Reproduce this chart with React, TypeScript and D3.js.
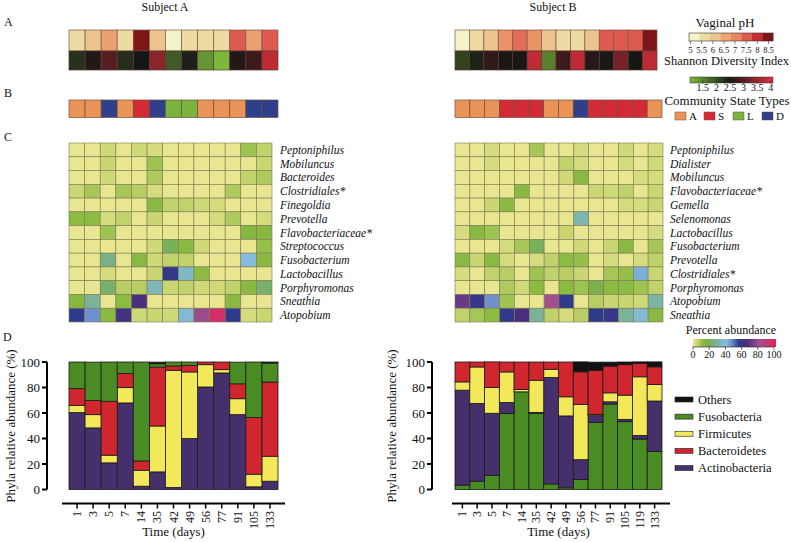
import React from 'react';
import * as d3 from 'd3';

// ---------- data ----------
const daysA = ['1', '3', '5', '7', '14', '35', '42', '49', '56', '77', '91', '105', '133'];
const daysB = ['1', '3', '5', '7', '14', '35', '42', '49', '56', '77', '91', '105', '119', '133'];

const phA = [5.5, 6.0, 6.6, 5.5, 8.5, 6.0, 5.0, 5.5, 5.5, 5.5, 7.5, 6.6, 7.5];
const phB = [5.0, 5.5, 6.0, 6.8, 7.3, 6.8, 6.0, 5.5, 5.5, 6.0, 7.5, 7.5, 7.5, 8.5];

const shannonA = [2.25, 2.6, 3.0, 2.3, 2.5, 3.4, 1.9, 2.4, 1.35, 1.05, 2.6, 2.8, 3.8];
const shannonB = [2.1, 2.38, 2.7, 2.55, 2.55, 3.8, 1.55, 2.8, 3.8, 2.65, 2.55, 3.25, 2.5, 3.8];

const cstA = ['A', 'A', 'D', 'A', 'S', 'D', 'L', 'L', 'A', 'A', 'A', 'D', 'D'];
const cstB = ['A', 'A', 'A', 'S', 'S', 'S', 'A', 'A', 'D', 'S', 'S', 'S', 'S', 'A'];
const cstTypes = ['A', 'S', 'L', 'D'];

const taxaA = ['Peptoniphilus', 'Mobiluncus', 'Bacteroides', 'Clostridiales*', 'Finegoldia', 'Prevotella',
  'Flavobacteriaceae*', 'Streptococcus', 'Fusobacterium', 'Lactobacillus', 'Porphyromonas', 'Sneathia', 'Atopobium'];
const abundA = [
  [0, 0, 4, 0, 4, 3, 0, 0, 0, 0, 0, 10, 6],
  [0, 0, 5, 0, 0, 10, 0, 0, 0, 0, 0, 0, 5],
  [0, 0, 4, 0, 0, 8, 0, 0, 0, 0, 0, 6, 8],
  [5, 9, 0, 9, 7, 3, 0, 0, 0, 0, 8, 0, 0],
  [0, 0, 0, 0, 0, 13, 6, 6, 4, 3, 0, 0, 0],
  [12, 12, 3, 6, 0, 5, 0, 0, 0, 3, 8, 0, 3],
  [0, 0, 10, 0, 0, 0, 0, 0, 0, 0, 0, 14, 14],
  [0, 0, 0, 0, 0, 4, 20, 13, 4, 0, 0, 0, 11],
  [0, 0, 25, 0, 13, 4, 6, 6, 0, 0, 0, 40, 13],
  [0, 0, 3, 0, 0, 5, 57, 35, 12, 0, 0, 0, 0],
  [0, 0, 22, 7, 7, 33, 5, 6, 4, 4, 6, 13, 22],
  [14, 28, 0, 12, 65, 0, 0, 0, 0, 0, 13, 0, 0],
  [55, 46, 13, 62, 4, 5, 4, 38, 78, 95, 55, 3, 5],
];

const taxaB = ['Peptoniphilus', 'Dialister', 'Mobiluncus', 'Flavobacteriaceae*', 'Gemella', 'Selenomonas',
  'Lactobacillus', 'Fusobacterium', 'Prevotella', 'Clostridiales*', 'Porphyromonas', 'Atopobium', 'Sneathia'];
const abundB = [
  [0, 0, 3, 0, 0, 9, 0, 0, 3, 0, 0, 4, 0, 3],
  [0, 0, 3, 0, 0, 0, 0, 6, 3, 0, 0, 3, 0, 4],
  [0, 0, 0, 0, 0, 0, 0, 4, 13, 0, 0, 0, 3, 3],
  [0, 0, 0, 0, 13, 0, 0, 0, 0, 5, 4, 6, 0, 5],
  [0, 0, 5, 13, 0, 0, 0, 0, 0, 0, 0, 3, 3, 5],
  [0, 0, 0, 0, 0, 0, 0, 0, 32, 0, 0, 0, 0, 0],
  [3, 13, 10, 0, 0, 0, 0, 5, 0, 0, 0, 0, 0, 3],
  [0, 0, 0, 3, 9, 20, 0, 0, 4, 0, 5, 13, 0, 9],
  [13, 5, 13, 3, 0, 3, 6, 12, 11, 0, 3, 0, 3, 6],
  [3, 0, 6, 7, 0, 10, 6, 7, 5, 0, 9, 11, 42, 5],
  [0, 0, 0, 8, 4, 12, 0, 12, 10, 18, 12, 12, 10, 6],
  [70, 58, 46, 10, 0, 0, 80, 55, 0, 7, 5, 5, 4, 30],
  [6, 9, 12, 57, 65, 28, 6, 3, 7, 55, 58, 28, 38, 13],
];

// Phyla relative abundance (%)
const actinoA = [60.3, 48.3, 20.9, 67.9, 2.6, 13.8, 1.6, 40, 80.4, 91.4, 58.7, 2.1, 6.5];
const firmA = [5.7, 10.4, 6, 12, 12.5, 36, 91.9, 52.2, 17.5, 2.6, 12.5, 9.9, 19.6];
const bactA = [13.1, 11.2, 42.3, 11, 7.3, 46.2, 3.4, 5.2, 2.1, 6, 11.7, 44.4, 58.2];
const fusoA = [20.9, 30, 30.8, 9.1, 77.6, 2.6, 3.1, 2.6, 0, 0, 17, 43.6, 14.9];
const othersA = [0, 0, 0, 0, 0, 1.3, 0, 0, 0, 0, 0, 0, 0.8];

const fusoB = [3.4, 6.5, 11.2, 59.7, 76.6, 59.7, 4.4, 1.3, 7.8, 52.7, 67, 53.2, 39.5, 29.9];
const actinoB = [74.5, 61, 48.6, 8.6, 0, 0.8, 83.4, 56.4, 15.6, 5.2, 1.8, 1.8, 2.9, 39.5];
const firmB = [6.5, 28.6, 20.3, 23.9, 1.8, 25.2, 6.5, 15, 43.4, 1, 7, 19, 46, 13];
const bactB = [15.6, 3.9, 20, 7.8, 21.6, 14.3, 5.7, 27.3, 25.5, 34.5, 21, 23.9, 10.4, 13.8];
const othersB = [0, 0, 0, 0, 0, 0, 0, 0, 7.8, 6.5, 3.1, 2.1, 1.3, 3.9];

const phyla = ['Others', 'Fusobacteria', 'Firmicutes', 'Bacteroidetes', 'Actinobacteria'];
const orderA = ['Actinobacteria', 'Firmicutes', 'Bacteroidetes', 'Fusobacteria', 'Others'];
const orderB = ['Fusobacteria', 'Actinobacteria', 'Firmicutes', 'Bacteroidetes', 'Others'];

const phTicks = [5, 5.5, 6, 6.5, 7, 7.5, 8, 8.5];
const shTicks = [1.5, 2, 2.5, 3, 3.5, 4];
const abTicks = [0, 20, 40, 60, 80, 100];

// ---------- styles ----------
const FONT = '"Liberation Serif","Times New Roman",serif';

const phColor = d3.scaleLinear<string>()
  .domain([5, 5.5, 6, 6.5, 7, 7.5, 8, 8.5])
  .range(['#f3f3cb', '#eddba2', '#ecc48d', '#eba674', '#e8865f', '#de5a51', '#c62a33', '#7e1618'])
  .clamp(true);
const shColor = d3.scaleLinear<string>()
  .domain([1.03, 2.5, 4.08])
  .range(['#7cba3c', '#161616', '#e3303b'])
  .clamp(true);
const abDomain = [0, 5, 12, 17, 25, 40, 47, 55, 65, 80, 100];
const abColor = d3.scaleLinear<string>()
  .domain(abDomain)
  .range(['#e8e690', '#c9d672', '#8cbb42', '#7cb040', '#78b088', '#84bce0', '#6a8ac8', '#2e3a8a', '#4a2f7e', '#a5508e', '#e0245a'])
  .clamp(true);
const cstColor: Record<string, string> = { A: '#eb9458', S: '#d42a35', L: '#7ab43c', D: '#2f3f8c' };
const phylaColor: Record<string, string> = {
  Others: '#111111', Fusobacteria: '#4a8c24', Firmicutes: '#f2e85a', Bacteroidetes: '#d0262e', Actinobacteria: '#46306c',
};

// ---------- components ----------
function TopRows({ x0, x1, ph, sh }: { x0: number; x1: number; ph: number[]; sh: number[] }) {
  const x = d3.scaleBand<number>().domain(d3.range(ph.length)).range([x0, x1]);
  return (
    <g>
      {ph.map((v, i) => (
        <rect key={'p' + i} x={x(i)} y={30} width={x.bandwidth()} height={21} fill={phColor(v)} stroke="#7a5a48" strokeWidth={0.7} />
      ))}
      {sh.map((v, i) => (
        <rect key={'s' + i} x={x(i)} y={51} width={x.bandwidth()} height={19} fill={shColor(v)} stroke="#5a3a30" strokeWidth={0.7} />
      ))}
    </g>
  );
}

function CstRow({ x0, x1, cst }: { x0: number; x1: number; cst: string[] }) {
  const x = d3.scaleBand<number>().domain(d3.range(cst.length)).range([x0, x1]);
  return (
    <g>
      {cst.map((c, i) => (
        <rect key={i} x={x(i)} y={100} width={x.bandwidth()} height={17.5} fill={cstColor[c]} stroke="#6a5040" strokeWidth={0.7} />
      ))}
    </g>
  );
}

function Heat({ x0, x1, taxa, m, labelX }: { x0: number; x1: number; taxa: string[]; m: number[][]; labelX: number }) {
  const x = d3.scaleBand<number>().domain(d3.range(m[0].length)).range([x0, x1]);
  const y = d3.scaleBand<string>().domain(taxa).range([143, 322]);
  return (
    <g>
      {m.map((row, r) =>
        row.map((v, c) => (
          <rect key={r + '-' + c} x={x(c)} y={y(taxa[r])} width={x.bandwidth()} height={y.bandwidth()}
            fill={abColor(v)} stroke="#7d7a55" strokeWidth={0.6} />
        ))
      )}
      {taxa.map((t) => (
        <text key={t} x={labelX} y={(y(t) as number) + y.bandwidth() / 2} dy="0.35em" fontSize={11.5}
          fontStyle="italic" fontFamily={FONT} fill="#111">{t}</text>
      ))}
    </g>
  );
}

function Bars({ days, rows, order, x0, x1, axisX, axisLine, yLabelX }: {
  days: string[]; rows: any[]; order: string[]; x0: number; x1: number; axisX: number; axisLine: [number, number]; yLabelX: number;
}) {
  const x = d3.scaleBand<string>().domain(days).range([x0, x1]);
  const y = d3.scaleLinear().domain([0, 100]).range([489.5, 362]);
  const series = d3.stack<any>().keys(order)(rows);
  const axisY = 503.5;
  return (
    <g fontFamily={FONT}>
      {series.map((s) =>
        s.map((p, i) => {
          const h = y(p[0]) - y(p[1]);
          if (h <= 0.01) return null;
          return (
            <rect key={s.key + i} x={x(p.data.day)} y={y(p[1])} width={x.bandwidth()} height={h}
              fill={phylaColor[s.key]} stroke="#1a1a1a" strokeWidth={0.8} />
          );
        })
      )}
      {/* y axis */}
      <line x1={axisX} x2={axisX} y1={y(100)} y2={y(0)} stroke="#000" strokeWidth={2} />
      {y.ticks(5).map((t) => (
        <g key={t}>
          <line x1={axisX - 5} x2={axisX} y1={y(t)} y2={y(t)} stroke="#000" strokeWidth={2} />
          <text x={axisX - 7} y={y(t)} dy="0.35em" textAnchor="end" fontSize={13} fill="#111">{t}</text>
        </g>
      ))}
      <text transform={`translate(${yLabelX},${426}) rotate(-90)`} textAnchor="middle" fontSize={13} fill="#111">
        Phyla relative abundance (%)
      </text>
      {/* x axis */}
      <line x1={axisLine[0]} x2={axisLine[1]} y1={axisY} y2={axisY} stroke="#000" strokeWidth={2} />
      {days.map((d) => {
        const cx = (x(d) as number) + x.bandwidth() / 2;
        return (
          <g key={d}>
            <line x1={cx} x2={cx} y1={axisY} y2={axisY + 5} stroke="#000" strokeWidth={1.5} />
            <text transform={`translate(${cx + 4},${511}) rotate(-90)`} textAnchor="end" fontSize={12} fill="#111">{d}</text>
          </g>
        );
      })}
      <text x={(x0 + x1) / 2} y={536} textAnchor="middle" fontSize={13} fill="#111">Time (days)</text>
    </g>
  );
}

export default function App() {
  const rowsA = daysA.map((d, i) => ({
    day: d, Actinobacteria: actinoA[i], Firmicutes: firmA[i], Bacteroidetes: bactA[i], Fusobacteria: fusoA[i], Others: othersA[i],
  }));
  const rowsB = daysB.map((d, i) => ({
    day: d, Actinobacteria: actinoB[i], Firmicutes: firmB[i], Bacteroidetes: bactB[i], Fusobacteria: fusoB[i], Others: othersB[i],
  }));

  const phLeg = d3.scaleLinear().domain([5, 8.5]).range([690.5, 768.5]);
  const phBlocks = d3.range(8);
  const phBlockX = d3.scaleBand<number>().domain(phBlocks).range([689, 773]);
  const shLeg = d3.scaleLinear().domain([1.03, 4.08]).range([690, 773]);
  const abLeg = d3.scaleLinear().domain([0, 100]).range([693, 774]);
  const legY = d3.scaleLinear().domain([0, phyla.length - 1]).range([399.5, 468]);
  const cstLegX = d3.scaleLinear().domain([0, 3]).range([675, 762]);

  return (
    <div style={{ position: 'fixed', left: 0, top: 0 }}>
      <svg width={791} height={542} style={{ display: 'block', background: '#fff' }} fontFamily={FONT}>
        <defs>
          <linearGradient id="shGrad" x1="0" x2="1" y1="0" y2="0">
            {[1.03, 1.5, 2, 2.5, 3, 3.5, 4.08].map((v) => (
              <stop key={v} offset={(v - 1.03) / (4.08 - 1.03)} stopColor={shColor(v)} />
            ))}
          </linearGradient>
          <linearGradient id="abGrad" x1="0" x2="1" y1="0" y2="0">
            {abDomain.map((v) => (
              <stop key={v} offset={v / 100} stopColor={abColor(v)} />
            ))}
          </linearGradient>
        </defs>

        {/* panel letters and titles */}
        <text x={4} y={26} fontSize={12} fill="#111">A</text>
        <text x={4} y={97} fontSize={12} fill="#111">B</text>
        <text x={4} y={141} fontSize={12} fill="#111">C</text>
        <text x={3} y={341} fontSize={12} fill="#111">D</text>
        <text x={165} y={11} textAnchor="middle" fontSize={12} fill="#111">Subject A</text>
        <text x={553} y={11} textAnchor="middle" fontSize={12} fill="#111">Subject B</text>

        <TopRows x0={69} x1={278} ph={phA} sh={shannonA} />
        <TopRows x0={455} x1={657} ph={phB} sh={shannonB} />
        <CstRow x0={69} x1={278} cst={cstA} />
        <CstRow x0={455} x1={662} cst={cstB} />

        <Heat x0={69} x1={272} taxa={taxaA} m={abundA} labelX={280} />
        <Heat x0={455} x1={663} taxa={taxaB} m={abundB} labelX={670} />

        {/* Vaginal pH legend */}
        <text x={725} y={27} textAnchor="middle" fontSize={13} fill="#111">Vaginal pH</text>
        {phBlocks.map((b) => (
          <rect key={b} x={phBlockX(b)} y={33} width={phBlockX.bandwidth() + 0.3} height={8}
            fill={phColor(5 + (b * 3.5) / 7)} />
        ))}
        <rect x={689} y={33} width={84} height={8} fill="none" stroke="#333" strokeWidth={0.6} />
        {phTicks.map((t) => (
          <g key={t}>
            <line x1={phLeg(t)} x2={phLeg(t)} y1={41} y2={44} stroke="#333" strokeWidth={0.6} />
            <text x={phLeg(t)} y={53} textAnchor="middle" fontSize={8.6} fill="#111">{t}</text>
          </g>
        ))}

        {/* Shannon legend */}
        <text x={789} y={65} textAnchor="end" fontSize={12.5} fill="#111">Shannon Diversity Index</text>
        <rect x={690} y={77} width={83} height={6} fill="url(#shGrad)" stroke="#333" strokeWidth={0.5} />
        {shTicks.map((t) => (
          <g key={t}>
            <line x1={shLeg(t)} x2={shLeg(t)} y1={80} y2={84} stroke="#333" strokeWidth={0.6} />
            <text x={shLeg(t)} y={91} textAnchor="middle" fontSize={10} fill="#111">{t}</text>
          </g>
        ))}

        {/* CST legend */}
        <text x={727} y={105} textAnchor="middle" fontSize={13} fill="#111">Community State Types</text>
        {cstTypes.map((c, i) => (
          <g key={c}>
            <rect x={cstLegX(i)} y={112} width={11} height={8} fill={cstColor[c]} stroke="#6a5040" strokeWidth={0.5} />
            <text x={cstLegX(i) + 14} y={120} fontSize={11} fill="#111">{c}</text>
          </g>
        ))}

        {/* Percent abundance legend */}
        <text x={731} y={334} textAnchor="middle" fontSize={12} fill="#111">Percent abundance</text>
        <rect x={693} y={339} width={83} height={8} fill="url(#abGrad)" />
        {abTicks.map((t) => (
          <g key={t}>
            <line x1={abLeg(t)} x2={abLeg(t)} y1={346} y2={350} stroke="#333" strokeWidth={0.7} />
            <text x={abLeg(t)} y={358} textAnchor="middle" fontSize={10} fill="#111">{t}</text>
          </g>
        ))}
        <line x1={693} x2={774} y1={347} y2={347} stroke="#333" strokeWidth={0.7} />

        {/* bar charts */}
        <Bars days={daysA} rows={rowsA} order={orderA} x0={69} x1={278} axisX={47} axisLine={[62, 285]} yLabelX={14.5} />
        <Bars days={daysB} rows={rowsB} order={orderB} x0={455} x1={662} axisX={432} axisLine={[452, 670]} yLabelX={396} />

        {/* phyla legend */}
        {phyla.map((p, i) => (
          <g key={p}>
            <rect x={675} y={legY(i) - 2.5} width={18} height={5} fill={phylaColor[p]} stroke="#222" strokeWidth={0.6} />
            <text x={698} y={legY(i)} dy="0.35em" fontSize={12.5} fill="#111">{p}</text>
          </g>
        ))}
      </svg>
    </div>
  );
}
